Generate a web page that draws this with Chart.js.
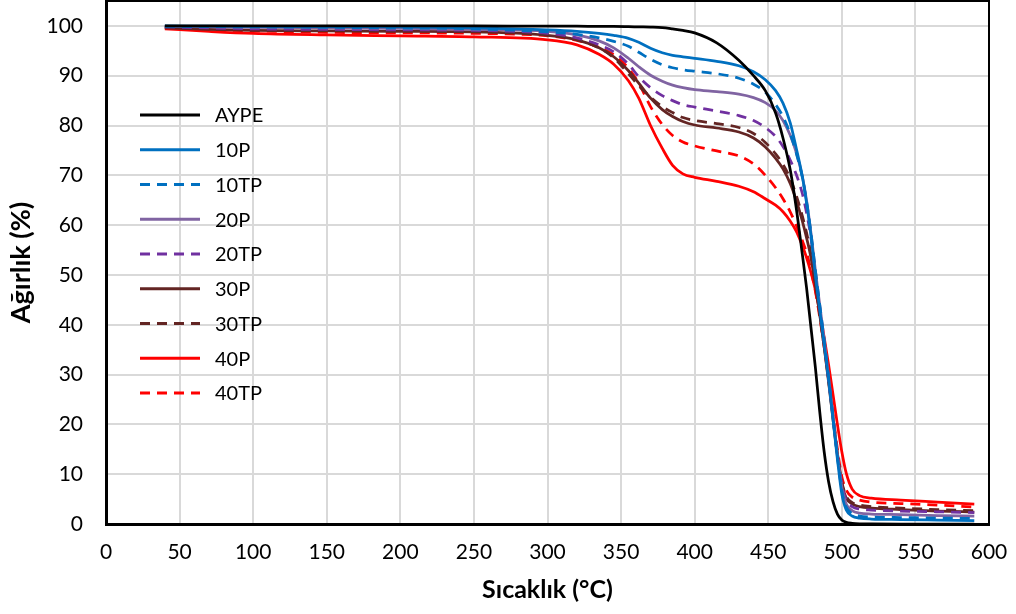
<!DOCTYPE html>
<html lang="tr">
<head>
<meta charset="utf-8">
<title>TGA</title>
<script src="https://cdn.jsdelivr.net/npm/chart.js@4.4.1/dist/chart.umd.min.js"></script>
<style>
    body { margin: 0; background: #fff; }
    #wrap { width: 1016px; height: 614px; }
</style>
</head>
<body>
<div id="wrap"><canvas id="tga" width="1016" height="614"></canvas></div>
<script>
// Sıcaklık noktaları (°C)
const temps = [40, 70, 100, 150, 200, 250, 300, 320, 335, 345, 355, 362, 370, 378, 385, 392, 400, 415, 430, 440,
    448, 455, 460, 465, 469, 473, 476, 479, 482, 485, 488, 491, 494, 497, 500, 503, 507, 512, 520, 540, 565, 590];

// Ağırlık (%) değerleri
const aype = [100, 100, 100, 100, 100, 100, 99.95, 99.95, 99.9, 99.9, 99.85, 99.8, 99.75, 99.65, 99.4, 99.1, 98.6, 96.6, 93.1, 90,
    87, 82.5, 77.5, 71, 63.5, 54.5, 47.5, 39.5, 31.5, 22.5, 14.5, 8.5, 4.5, 2, 0.8, 0.35, 0.15, 0.05, 0.02, 0, 0, 0];
const p10 = [100, 99.95, 99.9, 99.85, 99.8, 99.6, 99.2, 98.9, 98.5, 98.1, 97.5, 96.7, 95.5, 94.6, 94.1, 93.8, 93.5, 92.9, 92.0, 90.8,
    89.2, 87, 84.5, 80.5, 75.5, 70, 64.5, 58, 50, 43, 36, 29, 21, 13, 6, 2.8, 1.6, 1.2, 1.0, 0.9, 0.8, 0.7];
const tp10 = [99.9, 99.85, 99.8, 99.7, 99.6, 99.4, 98.8, 98.3, 97.6, 96.9, 95.9, 94.7, 93.3, 92.2, 91.6, 91.2, 90.9, 90.4, 89.5, 88.3,
    86.7, 84.2, 81.8, 78.3, 74.5, 69.8, 64.8, 58.5, 51, 44, 37, 29.5, 21.5, 13.5, 6.8, 3.4, 2.1, 1.6, 1.4, 1.3, 1.2, 1.1];
const p20 = [99.9, 99.8, 99.7, 99.6, 99.5, 99.3, 98.9, 98.2, 97.0, 95.6, 93.5, 91.8, 90.1, 88.9, 88.1, 87.6, 87.2, 86.8, 86.3, 85.6,
    84.6, 83, 81, 78, 74.6, 70, 65, 58.5, 51, 44, 37, 29.5, 21.5, 13.8, 7.4, 4, 2.7, 2.2, 2.0, 1.9, 1.7, 1.6];
const tp20 = [99.8, 99.6, 99.4, 99.3, 99.2, 99.1, 98.5, 97.6, 96.2, 94.8, 92.3, 89.8, 87.6, 86, 85, 84.2, 83.7, 82.9, 82, 81,
    79.6, 77.8, 75.8, 73, 70.2, 66.5, 62.5, 57.5, 50.5, 43.5, 36.5, 29, 21.5, 14, 8, 4.8, 3.5, 3.0, 2.8, 2.6, 2.45, 2.3];
const p30 = [99.6, 99.3, 99.1, 99.0, 98.9, 98.8, 98.1, 97.2, 95.6, 93.8, 91, 88.5, 85.5, 83.2, 81.8, 80.8, 80.1, 79.5, 78.7, 77.5,
    75.7, 73.4, 71.3, 68.3, 65, 61, 57.5, 53.5, 48, 42, 35.5, 28.5, 21, 13.8, 8, 5.2, 4.0, 3.5, 3.2, 2.9, 2.6, 2.4];
const tp30 = [99.7, 99.4, 99.2, 99.1, 99.0, 98.9, 98.3, 97.3, 95.6, 93.6, 90.4, 88, 85.7, 83.8, 82.6, 81.6, 81, 80.4, 79.6, 78.4,
    76.6, 74.3, 72.2, 69.3, 66, 62, 58.5, 54.2, 48.5, 42.3, 35.8, 28.8, 21.5, 14.2, 8.5, 5.6, 4.3, 3.8, 3.5, 3.2, 2.9, 2.7];
const p40 = [99.4, 98.9, 98.5, 98.2, 98.0, 97.8, 97.2, 96.2, 94.3, 92.3, 89, 85.5, 80, 75.4, 72, 70.3, 69.6, 68.8, 67.8, 66.7,
    65.3, 64, 62.7, 60.8, 58.8, 56, 53.5, 50.5, 47, 42.5, 37.5, 32, 26, 20, 14.5, 10.2, 7, 5.7, 5.2, 4.8, 4.4, 4.0];
const tp40 = [99.6, 99.2, 99.0, 98.7, 98.6, 98.5, 98.0, 97.1, 95.7, 94.2, 91.5, 88.5, 83.8, 80.2, 78, 76.7, 75.9, 74.9, 73.9, 72.3,
    70, 67.5, 65.3, 62.6, 60, 57, 54.5, 51, 46.8, 41.5, 35.5, 29, 22, 15, 9.5, 6.8, 5.4, 4.8, 4.4, 4.1, 3.8, 3.4];

const labels = ['AYPE', '10P', '10TP', '20P', '20TP', '30P', '30TP', '40P', '40TP'];
const series = [aype, p10, tp10, p20, tp20, p30, tp30, p40, tp40];
const colors = ['#000000', '#0070C0', '#0070C0', '#8064A2', '#7030A0', '#632523', '#632523', '#FF0000', '#FF0000'];
const dashed = [false, false, true, false, true, false, true, false, true];

const FONT = 'Lato, "Open Sans", sans-serif';

const datasets = series.map((vals, i) => ({
    label: labels[i],
    data: temps.map((t, j) => ({ x: t, y: vals[j] })),
    borderColor: colors[i],
    borderWidth: 2.75,
    borderDash: dashed[i] ? [10, 7] : [],
    pointRadius: 0,
    fill: false,
    cubicInterpolationMode: 'monotone'
}));

// Grafik alanı çerçevesi
const frame = {
    id: 'frame',
    afterDatasetsDraw(chart) {
        const { ctx, chartArea: a } = chart;
        ctx.save();
        ctx.strokeStyle = '#000';
        ctx.lineWidth = 2;
        ctx.strokeRect(a.left, a.top, a.right - a.left, a.bottom - a.top);
        ctx.restore();
    }
};

// Grafik içindeki açıklama (lejant)
const insideLegend = {
    id: 'insideLegend',
    afterDraw(chart) {
        const { ctx } = chart;
        ctx.save();
        ctx.font = '20px ' + FONT;
        ctx.textBaseline = 'middle';
        ctx.fillStyle = '#000';
        chart.data.datasets.forEach((ds, i) => {
            const y = 115 + i * 34.75;
            ctx.beginPath();
            ctx.strokeStyle = ds.borderColor;
            ctx.lineWidth = 3;
            ctx.setLineDash(ds.borderDash);
            ctx.moveTo(140, y);
            ctx.lineTo(200, y);
            ctx.stroke();
            ctx.setLineDash([]);
            ctx.fillText(ds.label, 215, y + 1);
        });
        ctx.restore();
    }
};

new Chart(document.getElementById('tga'), {
    type: 'line',
    data: { datasets },
    options: {
        responsive: false,
        animation: false,
        layout: { padding: { left: 0, top: 1, right: 27, bottom: 0 } },
        plugins: { legend: { display: false }, tooltip: { enabled: false } },
        scales: {
            x: {
                type: 'linear',
                min: 0,
                max: 600,
                ticks: { stepSize: 50, color: '#000', padding: 16, font: { family: FONT, size: 21 }, maxRotation: 0 },
                grid: { color: '#d9d9d9', lineWidth: 2, drawTicks: false },
                border: { color: '#000', width: 3 },
                title: { display: true, text: 'Sıcaklık (°C)', color: '#000', padding: { top: 0, bottom: 9 },
                    font: { family: FONT, size: 25, weight: 'bold' } },
                afterFit(scale) {
                    scale.height = 90;
                    scale.paddingLeft = 0;
                    scale.paddingRight = 0;
                }
            },
            y: {
                min: 0,
                max: 105,
                ticks: { stepSize: 10, color: '#000', padding: 23, font: { family: FONT, size: 21 } },
                afterBuildTicks(scale) { scale.ticks = scale.ticks.filter(t => t.value % 10 === 0); },
                grid: { color: '#d9d9d9', lineWidth: 2, drawTicks: false },
                border: { color: '#000', width: 3 },
                title: { display: true, text: 'Ağırlık (%)', color: '#000', padding: { top: 5, bottom: 0 },
                    font: { family: FONT, size: 27, weight: 'bold' } },
                afterFit(scale) {
                    scale.width = 106;
                    scale.paddingTop = 0;
                    scale.paddingBottom = 0;
                }
            }
        }
    },
    plugins: [frame, insideLegend]
});
</script>
</body>
</html>
